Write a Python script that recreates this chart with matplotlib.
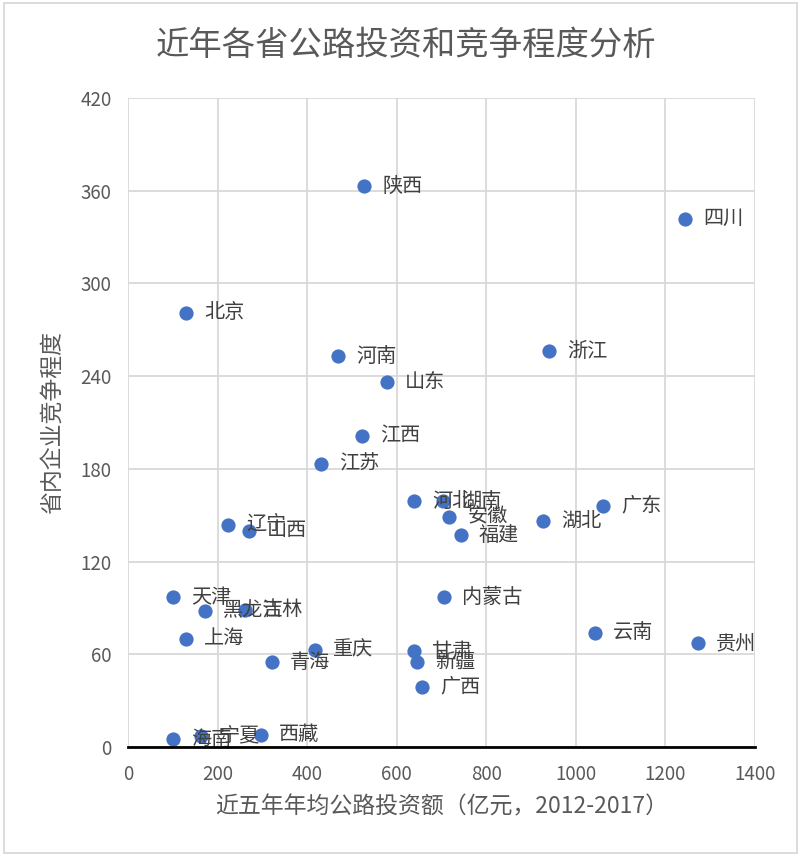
import matplotlib
matplotlib.use("Agg")
import matplotlib.pyplot as plt
from matplotlib.patches import Rectangle

plt.rcParams['font.family'] = ['Noto Sans CJK SC', 'DejaVu Sans']

provinces = ["陕西", "四川", "北京", "浙江", "河南", "山东", "江西", "江苏",
             "河北", "湖南", "安徽", "福建", "湖北", "广东", "辽宁", "山西",
             "天津", "黑龙江", "吉林", "内蒙古", "上海", "云南", "贵州", "重庆",
             "青海", "甘肃", "新疆", "广西", "海南", "宁夏", "西藏"]
investment = [527, 1244, 129, 940, 469, 578, 522, 431,
              639, 703, 717, 743, 927, 1060, 223, 270,
              100, 172, 261, 706, 129, 1043, 1273, 417,
              321, 639, 645, 656, 100, 163, 297]
competition = [363, 342, 281, 256, 253, 236, 201, 183,
               159, 159, 149, 137, 146, 156, 144, 140,
               97, 88, 89, 97, 70, 74, 67, 63,
               55, 62, 55, 39, 5, 7, 8]

x_ticks = [0, 200, 400, 600, 800, 1000, 1200, 1400]
y_ticks = [0, 60, 120, 180, 240, 300, 360, 420]

grey = "#595959"
fig = plt.figure(figsize=(8.01, 8.56), dpi=100)
ax = fig.add_axes([0.160, 0.1273, 0.7826, 0.7582])

ax.scatter(investment, competition, s=105, color="#4472C4", zorder=3, linewidths=0)
for name, xv, yv in zip(provinces, investment, competition):
    ax.annotate(name, (xv, yv), xytext=(13, 0), textcoords="offset points",
                va="center", ha="left", fontsize=14.5, color="#404040", zorder=4)

ax.set_xlim(0, 1400)
ax.set_ylim(0, 420)
ax.set_xticks(x_ticks)
ax.set_yticks(y_ticks)
ax.tick_params(length=0, labelsize=13.5, colors=grey, pad=12)
ax.grid(True, color="#d9d9d9", linewidth=1.3, zorder=0)
ax.set_axisbelow(True)
for s in ["top", "right", "left"]:
    ax.spines[s].set_visible(False)
ax.spines["bottom"].set_color("black")
ax.spines["bottom"].set_linewidth(2)
ax.spines["bottom"].set_zorder(5)

ax.set_xlabel("近五年年均公路投资额（亿元，2012-2017）", fontsize=16.5, color=grey, labelpad=8)
ax.set_ylabel("省内企业竞争程度", fontsize=16.5, color=grey, labelpad=12)

fig.text(0.507, 0.947, "近年各省公路投资和竞争程度分析", fontsize=24, color=grey,
         ha="center", va="center")

fig.patches.append(Rectangle((0.005, 0.004), 0.99, 0.992, transform=fig.transFigure,
                             fill=False, edgecolor="#d9d9d9", linewidth=1.3))

fig.savefig("out.png", dpi=100)
